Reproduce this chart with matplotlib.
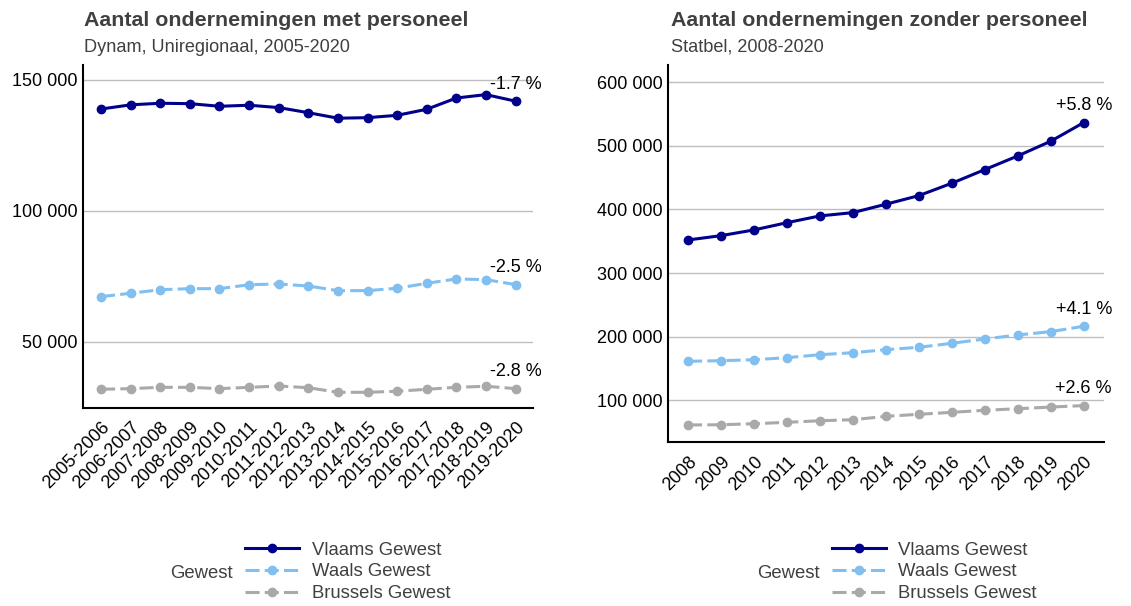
import matplotlib
matplotlib.use('Agg')
import matplotlib.pyplot as plt
from matplotlib.lines import Line2D
from matplotlib.ticker import FuncFormatter
from matplotlib.transforms import Bbox, TransformedBbox

plt.rcParams['font.family'] = ['Liberation Sans', 'DejaVu Sans']

# Left panel: ondernemingen met personeel (Dynam)
periods = ['2005-2006', '2006-2007', '2007-2008', '2008-2009', '2009-2010',
           '2010-2011', '2011-2012', '2012-2013', '2013-2014', '2014-2015',
           '2015-2016', '2016-2017', '2017-2018', '2018-2019', '2019-2020']
met_vlaams = [138900, 140500, 141100, 140950, 139950, 140350, 139450, 137500,
              135400, 135600, 136500, 138800, 143100, 144400, 141900]
met_waals = [67300, 68600, 69950, 70350, 70350, 71850, 72150, 71350,
             69600, 69600, 70500, 72400, 74050, 73800, 71900]
met_brussel = [31950, 32200, 32700, 32700, 32200, 32700, 33200, 32550,
               30800, 30800, 31200, 31950, 32700, 33100, 32200]
met_labels = ['-1.7 %', '-2.5 %', '-2.8 %']

# Right panel: ondernemingen zonder personeel (Statbel)
years = ['2008', '2009', '2010', '2011', '2012', '2013', '2014',
         '2015', '2016', '2017', '2018', '2019', '2020']
zonder_vlaams = [352000, 358800, 367800, 379200, 389800, 395000, 408200,
                 421700, 441200, 462600, 484100, 507200, 536500]
zonder_waals = [161300, 162300, 163800, 167000, 171700, 174800, 179600,
                183300, 189600, 196400, 202700, 207900, 216400]
zonder_brussel = [61200, 61600, 63200, 65400, 67900, 69500, 74800,
                  78000, 81100, 84300, 86800, 89400, 91700]
zonder_labels = ['+5.8 %', '+4.1 %', '+2.6 %']

regions = ['Vlaams Gewest', 'Waals Gewest', 'Brussels Gewest']
colors = ['#00008B', '#80BFF0', '#A9A9A9']
styles = ['-', (0, (4.6, 1.7)), (0, (4.6, 1.7))]

W, H = 1131, 606
fig = plt.figure(figsize=(W / 100, H / 100), dpi=100)

ax1 = fig.add_axes([83.3 / W, (H - 408) / H, 450 / W, 343 / H])
ax2 = fig.add_axes([668.3 / W, (H - 442.3) / H, 435.2 / W, 377.3 / H])

fmt = FuncFormatter(lambda v, p: f'{int(v):,}'.replace(',', ' '))


def draw_panel(ax, cats, series, labels, ylim, yticks, clip_px):
    x = list(range(len(cats)))
    for vals, col, ls, lab in zip(series, colors, styles, labels):
        ax.plot(x, vals, color=col, linestyle=ls, linewidth=2.2,
                marker='o', markersize=6, zorder=3)
        t = ax.annotate(lab, (x[-1], vals[-1]), xytext=(0, 12),
                        textcoords='offset points', ha='center', va='center',
                        fontsize=13, color='black', annotation_clip=False)
        t.set_clip_box(TransformedBbox(Bbox([[0, 0], [clip_px / W, 1]]),
                                       fig.transFigure))
        t.set_clip_on(True)
    ax.set_xlim(-0.6, len(cats) - 0.4)
    ax.set_ylim(*ylim)
    ax.set_xticks(x)
    ax.set_xticklabels(cats, rotation=45, ha='right', rotation_mode='anchor')
    ax.set_yticks(yticks)
    ax.yaxis.set_major_formatter(fmt)
    ax.tick_params(length=0, labelsize=13, labelcolor='black', pad=4)
    ax.tick_params(axis='x', pad=8)
    ax.grid(axis='y', color='#BEBEBE', linewidth=1)
    ax.set_axisbelow(True)
    for s in ['top', 'right']:
        ax.spines[s].set_visible(False)
    for s in ['left', 'bottom']:
        ax.spines[s].set_linewidth(1.5)
        ax.spines[s].set_color('black')


draw_panel(ax1, periods, [met_vlaams, met_waals, met_brussel], met_labels,
           (24810, 155700), [50000, 100000, 150000], 541)
draw_panel(ax2, years, [zonder_vlaams, zonder_waals, zonder_brussel],
           zonder_labels, (34000, 627000),
           [100000, 200000, 300000, 400000, 500000, 600000], W)

# Titles and subtitles
title_col = '#404040'
fig.text(84 / W, 1 - 20 / H, 'Aantal ondernemingen met personeel',
         fontsize=15.4, fontweight='bold', color=title_col, va='center')
fig.text(84 / W, 1 - 47 / H, 'Dynam, Uniregionaal, 2005-2020',
         fontsize=13.1, color=title_col, va='center')
fig.text(671 / W, 1 - 20 / H, 'Aantal ondernemingen zonder personeel',
         fontsize=15.4, fontweight='bold', color=title_col, va='center')
fig.text(671 / W, 1 - 47 / H, 'Statbel, 2008-2020',
         fontsize=13.1, color=title_col, va='center')

# Legends with the title on the left
handles = [Line2D([], [], color=c, linestyle=ls, linewidth=2.2, marker='o',
                  markersize=6) for c, ls in zip(colors, styles)]
for key_x, title_x in [(245, 170), (832, 757)]:
    fig.text(title_x / W, 1 - 573 / H, 'Gewest', fontsize=13.3,
             color=title_col, va='center')
    leg = fig.legend(handles, regions, loc='center left',
                     bbox_to_anchor=(key_x / W, 1 - 572 / H), frameon=False,
                     fontsize=13.3, handlelength=2.95, handletextpad=0.65,
                     labelspacing=0.27, borderpad=0, borderaxespad=0)
    for txt in leg.get_texts():
        txt.set_color(title_col)

fig.savefig('out.png', dpi=100)
